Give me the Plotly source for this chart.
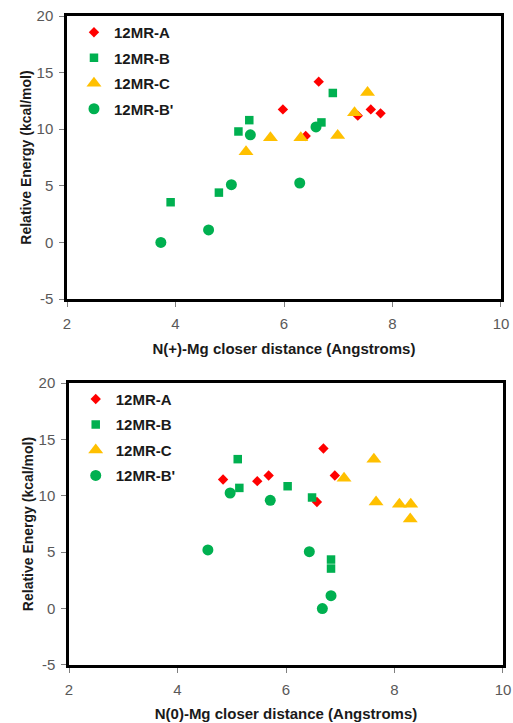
import plotly.graph_objects as go

# ---- data: top panel, N(+)-Mg closer distance ----
top_A_x = [5.98, 6.64, 6.40, 7.36, 7.60, 7.78]
top_A_y = [11.75, 14.2, 9.4, 11.2, 11.75, 11.4]
top_B_x = [3.91, 4.80, 5.16, 5.36, 6.69, 6.90]
top_B_y = [3.55, 4.4, 9.8, 10.8, 10.6, 13.2]
top_C_x = [5.30, 5.75, 6.31, 6.99, 7.30, 7.54]
top_C_y = [8.0, 9.25, 9.25, 9.45, 11.45, 13.25]
top_Bp_x = [3.73, 4.61, 5.03, 5.38, 6.29, 6.59]
top_Bp_y = [0.0, 1.1, 5.1, 9.5, 5.25, 10.2]

# ---- data: bottom panel, N(0)-Mg closer distance ----
bot_A_x = [4.84, 5.47, 5.68, 6.57, 6.69, 6.90]
bot_A_y = [11.45, 11.3, 11.8, 9.45, 14.2, 11.8]
bot_B_x = [5.11, 5.14, 6.03, 6.48, 6.83, 6.83]
bot_B_y = [13.25, 10.7, 10.85, 9.85, 4.35, 3.55]
bot_C_x = [7.07, 7.62, 7.66, 8.09, 8.30, 8.29]
bot_C_y = [11.55, 13.25, 9.45, 9.25, 9.25, 7.95]
bot_Bp_x = [4.56, 4.97, 5.71, 6.43, 6.67, 6.83]
bot_Bp_y = [5.2, 10.25, 9.6, 5.05, 0.0, 1.15]

series_names = ["12MR-A", "12MR-B", "12MR-C", "12MR-B'"]
colors = ["#FF0000", "#00B050", "#FFC000", "#00B050"]
symbols = ["diamond", "square", "triangle-up", "circle"]
sizes = [8, 8.5, 13, 11]

x_ticks = [2, 4, 6, 8, 10]
x_tick_text = ["2", "4", "6", "8", "10"]
y_ticks = [-5, 0, 5, 10, 15, 20]
y_tick_text = ["-5", "0", "5", "10", "15", "20"]
x_titles = ["N(+)-Mg closer distance (Angstroms)", "N(0)-Mg closer distance (Angstroms)"]
y_title = "Relative Energy (kcal/mol)"

fig = go.Figure()

panels = [
    ([top_A_x, top_B_x, top_C_x, top_Bp_x], [top_A_y, top_B_y, top_C_y, top_Bp_y], "x", "y", "legend"),
    ([bot_A_x, bot_B_x, bot_C_x, bot_Bp_x], [bot_A_y, bot_B_y, bot_C_y, bot_Bp_y], "x2", "y2", "legend2"),
]
for pi, (xs, ys, xa, ya, lg) in enumerate(panels):
    for i in range(4):
        fig.add_trace(go.Scatter(
            x=xs[i], y=ys[i], mode="markers", name=series_names[i],
            xaxis=xa, yaxis=ya, legend=lg, legendgroup=f"p{pi}s{i}",
            marker=dict(color=colors[i], symbol=symbols[i], size=sizes[i], line=dict(width=0)),
        ))

FONT = "Liberation Sans, Arial, sans-serif"
tick_font = dict(family=FONT, size=15, color="#595959")
xtitle_font = dict(family=FONT, size=15, color="#1a1a1a")
ytitle_font = dict(family=FONT, size=14, color="#1a1a1a")
legend_font = dict(family=FONT, size=15, color="#1a1a1a", weight="bold")

axis_common = dict(
    showline=True, linecolor="black", linewidth=2.5, mirror=True,
    ticks="outside", ticklen=5, tickcolor="#7f7f7f", tickwidth=1,
    showgrid=False, zeroline=False, tickfont=tick_font, automargin=False,
)
x_common = dict(range=[2, 10], tickvals=x_ticks, ticktext=x_tick_text, ticklabelstandoff=4, **axis_common)
y_common = dict(range=[-5, 20], tickvals=y_ticks, ticktext=y_tick_text, ticklabelstandoff=3, **axis_common)

fig.update_layout(
    width=513, height=723,
    margin=dict(l=67, r=10, t=16, b=58),
    paper_bgcolor="white", plot_bgcolor="white",
    xaxis=dict(domain=[0, 0.9954], anchor="y",
               title=dict(text="<b>" + x_titles[0] + "</b>", font=xtitle_font, standoff=13), **x_common),
    yaxis=dict(domain=[0.5639, 1], anchor="x",
               title=dict(text="<b>" + y_title + "</b>", font=ytitle_font, standoff=2), **y_common),
    xaxis2=dict(domain=[0.0046, 1], anchor="y2",
                title=dict(text="<b>" + x_titles[1] + "</b>", font=xtitle_font, standoff=12), **x_common),
    yaxis2=dict(domain=[0, 0.4345], anchor="x2",
                title=dict(text="<b>" + y_title + "</b>", font=ytitle_font, standoff=2), **y_common),
    legend=dict(x=0.016, y=1.0, xanchor="left", yanchor="top", bgcolor="rgba(0,0,0,0)",
                font=legend_font, tracegroupgap=3, traceorder="grouped"),
    legend2=dict(x=0.02, y=0.435, xanchor="left", yanchor="top", bgcolor="rgba(0,0,0,0)",
                 font=legend_font, tracegroupgap=3, traceorder="grouped"),
)

fig.write_html(
    "out.html",
    config={"displayModeBar": False},
    post_script="document.body.style.margin='0';document.body.style.overflow='hidden';",
)
